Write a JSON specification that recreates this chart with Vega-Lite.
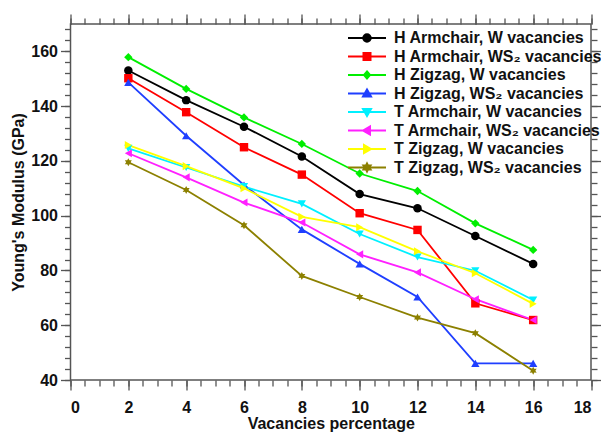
{
  "$schema": "https://vega.github.io/schema/vega-lite/v6.json",
  "width": 520.5,
  "height": 356,
  "autosize": "none",
  "padding": {"left": 70.5, "top": 24, "right": 10, "bottom": 55},
  "background": "white",
  "config": {
    "font": "Liberation Sans",
    "view": {"stroke": "#555", "strokeWidth": 1.5},
    "axis": {
      "labelFont": "Liberation Sans", "labelFontWeight": "bold", "labelFontSize": 16, "labelColor": "#111",
      "titleFont": "Liberation Sans", "titleFontWeight": "bold", "titleFontSize": 16, "titleColor": "#111",
      "tickColor": "#555", "tickWidth": 1.3, "domain": false, "grid": false
    }
  },
  "data": {"values": [
    {"x": 2, "y": 153.0, "series": "H Armchair, W vacancies"},
    {"x": 4, "y": 142.2, "series": "H Armchair, W vacancies"},
    {"x": 6, "y": 132.5, "series": "H Armchair, W vacancies"},
    {"x": 8, "y": 121.6, "series": "H Armchair, W vacancies"},
    {"x": 10, "y": 107.9, "series": "H Armchair, W vacancies"},
    {"x": 12, "y": 102.7, "series": "H Armchair, W vacancies"},
    {"x": 14, "y": 92.6, "series": "H Armchair, W vacancies"},
    {"x": 16, "y": 82.4, "series": "H Armchair, W vacancies"},
    {"x": 2, "y": 150.2, "series": "H Armchair, WS₂ vacancies"},
    {"x": 4, "y": 137.8, "series": "H Armchair, WS₂ vacancies"},
    {"x": 6, "y": 125.0, "series": "H Armchair, WS₂ vacancies"},
    {"x": 8, "y": 115.0, "series": "H Armchair, WS₂ vacancies"},
    {"x": 10, "y": 100.9, "series": "H Armchair, WS₂ vacancies"},
    {"x": 12, "y": 94.8, "series": "H Armchair, WS₂ vacancies"},
    {"x": 14, "y": 68.0, "series": "H Armchair, WS₂ vacancies"},
    {"x": 16, "y": 61.9, "series": "H Armchair, WS₂ vacancies"},
    {"x": 2, "y": 157.9, "series": "H Zigzag, W vacancies"},
    {"x": 4, "y": 146.3, "series": "H Zigzag, W vacancies"},
    {"x": 6, "y": 135.9, "series": "H Zigzag, W vacancies"},
    {"x": 8, "y": 126.2, "series": "H Zigzag, W vacancies"},
    {"x": 10, "y": 115.4, "series": "H Zigzag, W vacancies"},
    {"x": 12, "y": 109.0, "series": "H Zigzag, W vacancies"},
    {"x": 14, "y": 97.2, "series": "H Zigzag, W vacancies"},
    {"x": 16, "y": 87.5, "series": "H Zigzag, W vacancies"},
    {"x": 2, "y": 148.7, "series": "H Zigzag, WS₂ vacancies"},
    {"x": 4, "y": 129.2, "series": "H Zigzag, WS₂ vacancies"},
    {"x": 6, "y": 111.2, "series": "H Zigzag, WS₂ vacancies"},
    {"x": 8, "y": 95.0, "series": "H Zigzag, WS₂ vacancies"},
    {"x": 10, "y": 82.4, "series": "H Zigzag, WS₂ vacancies"},
    {"x": 12, "y": 70.3, "series": "H Zigzag, WS₂ vacancies"},
    {"x": 14, "y": 46.1, "series": "H Zigzag, WS₂ vacancies"},
    {"x": 16, "y": 46.1, "series": "H Zigzag, WS₂ vacancies"},
    {"x": 2, "y": 124.6, "series": "T Armchair, W vacancies"},
    {"x": 4, "y": 117.6, "series": "T Armchair, W vacancies"},
    {"x": 6, "y": 110.6, "series": "T Armchair, W vacancies"},
    {"x": 8, "y": 104.3, "series": "T Armchair, W vacancies"},
    {"x": 10, "y": 93.3, "series": "T Armchair, W vacancies"},
    {"x": 12, "y": 84.9, "series": "T Armchair, W vacancies"},
    {"x": 14, "y": 79.9, "series": "T Armchair, W vacancies"},
    {"x": 16, "y": 69.2, "series": "T Armchair, W vacancies"},
    {"x": 2, "y": 122.8, "series": "T Armchair, WS₂ vacancies"},
    {"x": 4, "y": 114.0, "series": "T Armchair, WS₂ vacancies"},
    {"x": 6, "y": 104.8, "series": "T Armchair, WS₂ vacancies"},
    {"x": 8, "y": 97.5, "series": "T Armchair, WS₂ vacancies"},
    {"x": 10, "y": 85.9, "series": "T Armchair, WS₂ vacancies"},
    {"x": 12, "y": 79.3, "series": "T Armchair, WS₂ vacancies"},
    {"x": 14, "y": 69.5, "series": "T Armchair, WS₂ vacancies"},
    {"x": 16, "y": 61.9, "series": "T Armchair, WS₂ vacancies"},
    {"x": 2, "y": 125.8, "series": "T Zigzag, W vacancies"},
    {"x": 4, "y": 118.1, "series": "T Zigzag, W vacancies"},
    {"x": 6, "y": 110.0, "series": "T Zigzag, W vacancies"},
    {"x": 8, "y": 99.6, "series": "T Zigzag, W vacancies"},
    {"x": 10, "y": 95.8, "series": "T Zigzag, W vacancies"},
    {"x": 12, "y": 87.0, "series": "T Zigzag, W vacancies"},
    {"x": 14, "y": 79.0, "series": "T Zigzag, W vacancies"},
    {"x": 16, "y": 67.8, "series": "T Zigzag, W vacancies"},
    {"x": 2, "y": 119.5, "series": "T Zigzag, WS₂ vacancies"},
    {"x": 4, "y": 109.4, "series": "T Zigzag, WS₂ vacancies"},
    {"x": 6, "y": 96.5, "series": "T Zigzag, WS₂ vacancies"},
    {"x": 8, "y": 78.0, "series": "T Zigzag, WS₂ vacancies"},
    {"x": 10, "y": 70.3, "series": "T Zigzag, WS₂ vacancies"},
    {"x": 12, "y": 62.8, "series": "T Zigzag, WS₂ vacancies"},
    {"x": 14, "y": 57.1, "series": "T Zigzag, WS₂ vacancies"},
    {"x": 16, "y": 43.4, "series": "T Zigzag, WS₂ vacancies"}
  ]},
  "resolve": {"axis": {"x": "independent", "y": "independent"}},
  "layer": [
    {
      "mark": {"type": "line", "strokeWidth": 1.8},
      "encoding": {
        "x": {"field": "x", "type": "quantitative", "scale": {"domain": [0, 18], "nice": false, "zero": false},
          "axis": {"orient": "bottom", "values": [0, 2, 4, 6, 8, 10, 12, 14, 16, 18], "tickSize": 10, "labelPadding": 9, "title": "Vacancies percentage", "titlePadding": 0}},
        "y": {"field": "y", "type": "quantitative", "scale": {"domain": [40, 170], "nice": false, "zero": false},
          "axis": {"orient": "left", "values": [40, 60, 80, 100, 120, 140, 160], "tickSize": 10, "labelPadding": 3, "title": "Young's Modulus (GPa)", "titlePadding": 4}},
        "color": {"field": "series", "type": "nominal",
          "scale": {
            "domain": ["H Armchair, W vacancies", "H Armchair, WS₂ vacancies", "H Zigzag, W vacancies", "H Zigzag, WS₂ vacancies", "T Armchair, W vacancies", "T Armchair, WS₂ vacancies", "T Zigzag, W vacancies", "T Zigzag, WS₂ vacancies"],
            "range": ["#000000", "#ff0000", "#00ee00", "#1f3fff", "#00f0ff", "#ff20ff", "#ffff00", "#8c8000"]
          },
          "legend": {
            "title": null, "orient": "none", "legendX": 288.5, "legendY": 6, "padding": 0,
            "symbolSize": 100, "labelOffset": 19, "rowPadding": 2.5, "labelLimit": 400,
            "labelFont": "Liberation Sans", "labelFontWeight": "bold", "labelFontSize": 16, "labelColor": "#111",
            "symbolStrokeWidth": 2,
            "encode": {"symbols": {"update": {
              "shape": {"signal": "['M-3.8,0H3.8M-0.75,0A0.75,0.75 0 1 0 0.75,0A0.75,0.75 0 1 0 -0.75,0Z', 'M-3.8,0H3.8M-0.7,-0.7H0.7V0.7H-0.7Z', 'M-3.8,0H3.8M0,-0.7L0.6,0L0,0.7L-0.6,0Z', 'M-3.8,0H3.8M0,-0.8L0.8,0.6H-0.8Z', 'M-3.8,0H3.8M0,0.8L0.8,-0.6H-0.8Z', 'M-3.8,0H3.8M-0.8,0L0.6,-0.8V0.8Z', 'M-3.8,0H3.8M0.8,0L-0.6,-0.8V0.8Z', 'M-3.8,0H3.8M0,-0.8L0.22,-0.38L0.7,-0.4L0.44,0L0.7,0.4L0.22,0.38L0,0.8L-0.22,0.38L-0.7,0.4L-0.44,0L-0.7,-0.4L-0.22,-0.38Z'][indexof(['H Armchair, W vacancies', 'H Armchair, WS₂ vacancies', 'H Zigzag, W vacancies', 'H Zigzag, WS₂ vacancies', 'T Armchair, W vacancies', 'T Armchair, WS₂ vacancies', 'T Zigzag, W vacancies', 'T Zigzag, WS₂ vacancies'], datum.value)]"},
              "fill": {"scale": "color", "field": "value"},
              "stroke": {"scale": "color", "field": "value"},
              "strokeWidth": {"value": 2},
              "opacity": {"value": 1}
            }}}
          }
        }
      }
    },
    {
      "mark": {"type": "point", "filled": true, "opacity": 1},
      "encoding": {
        "x": {"field": "x", "type": "quantitative", "scale": {"domain": [0, 18], "nice": false, "zero": false},
          "axis": {"orient": "bottom", "values": [0, 0.5, 1, 1.5, 2, 2.5, 3, 3.5, 4, 4.5, 5, 5.5, 6, 6.5, 7, 7.5, 8, 8.5, 9, 9.5, 10, 10.5, 11, 11.5, 12, 12.5, 13, 13.5, 14, 14.5, 15, 15.5, 16, 16.5, 17, 17.5, 18], "tickSize": 6, "labels": false, "title": null}},
        "y": {"field": "y", "type": "quantitative", "scale": {"domain": [40, 170], "nice": false, "zero": false},
          "axis": {"orient": "left", "values": [40, 44, 48, 52, 56, 60, 64, 68, 72, 76, 80, 84, 88, 92, 96, 100, 104, 108, 112, 116, 120, 124, 128, 132, 136, 140, 144, 148, 152, 156, 160, 164, 168], "tickSize": 6, "labels": false, "title": null}},
        "color": {"field": "series", "type": "nominal"},
        "shape": {"field": "series", "type": "nominal", "legend": null,
          "scale": {"range": ["circle", "square", "diamond", "triangle-up", "triangle-down", "triangle-left", "triangle-right", "M0,-1L0.28,-0.48L0.87,-0.5L0.55,0L0.87,0.5L0.28,0.48L0,1L-0.28,0.48L-0.87,0.5L-0.55,0L-0.87,-0.5L-0.28,-0.48Z"]}},
        "size": {"field": "series", "type": "nominal", "legend": null,
          "scale": {"range": [72, 64, 45, 64, 64, 64, 64, 72]}}
      }
    },
    {
      "mark": {"type": "point", "opacity": 0},
      "encoding": {
        "x": {"field": "x", "type": "quantitative", "scale": {"domain": [0, 18], "nice": false, "zero": false},
          "axis": {"orient": "top", "values": [0, 2, 4, 6, 8, 10, 12, 14, 16, 18], "tickSize": 10, "labels": false, "title": null}},
        "y": {"field": "y", "type": "quantitative", "scale": {"domain": [40, 170], "nice": false, "zero": false},
          "axis": {"orient": "right", "values": [40, 60, 80, 100, 120, 140, 160], "tickSize": 10, "labels": false, "title": null}}
      }
    },
    {
      "mark": {"type": "point", "opacity": 0},
      "encoding": {
        "x": {"field": "x", "type": "quantitative", "scale": {"domain": [0, 18], "nice": false, "zero": false},
          "axis": {"orient": "top", "values": [0, 0.5, 1, 1.5, 2, 2.5, 3, 3.5, 4, 4.5, 5, 5.5, 6, 6.5, 7, 7.5, 8, 8.5, 9, 9.5, 10, 10.5, 11, 11.5, 12, 12.5, 13, 13.5, 14, 14.5, 15, 15.5, 16, 16.5, 17, 17.5, 18], "tickSize": 6, "labels": false, "title": null}},
        "y": {"field": "y", "type": "quantitative", "scale": {"domain": [40, 170], "nice": false, "zero": false},
          "axis": {"orient": "right", "values": [40, 44, 48, 52, 56, 60, 64, 68, 72, 76, 80, 84, 88, 92, 96, 100, 104, 108, 112, 116, 120, 124, 128, 132, 136, 140, 144, 148, 152, 156, 160, 164, 168], "tickSize": 6, "labels": false, "title": null}}
      }
    }
  ]
}
